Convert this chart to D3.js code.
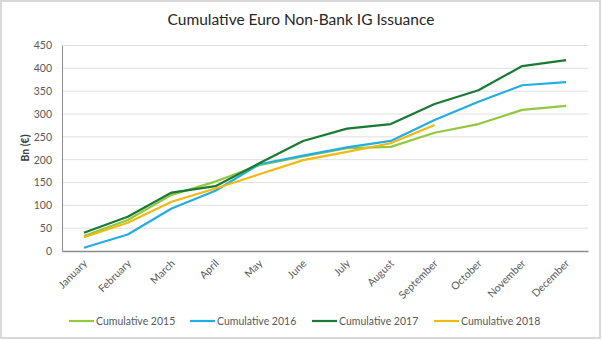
<!DOCTYPE html>
<html>
<head>
<meta charset="utf-8">
<style>
  body { margin: 0; background: #fff; }
  svg text { font-family: Lato, "Open Sans", sans-serif; fill: #404040; }
  .tick text { font-size: 10.5px; fill: #595959; }
</style>
</head>
<body>
<div id="chart"></div>
<script src="https://d3js.org/d3.v7.min.js"></script>
<script>
  // Monthly cumulative issuance, Bn EUR
  const months = ['January', 'February', 'March', 'April', 'May', 'June', 'July',
    'August', 'September', 'October', 'November', 'December'];
  const cum2015 = [33, 68, 123, 152, 188, 207, 225, 228, 259, 278, 309, 318];
  const cum2016 = [7, 36, 93, 132, 190, 209, 227, 241, 287, 327, 363, 370];
  const cum2017 = [40, 75, 128, 142, 192, 241, 268, 278, 322, 352, 405, 418];
  const cum2018 = [30, 62, 108, 137, 168, 199, 217, 236, 276];
  const yTicks = [0, 50, 100, 150, 200, 250, 300, 350, 400, 450];

  const series = [
    { name: 'Cumulative 2015', values: cum2015, color: '#92c83e' },
    { name: 'Cumulative 2016', values: cum2016, color: '#22aee0' },
    { name: 'Cumulative 2017', values: cum2017, color: '#1a7a33' },
    { name: 'Cumulative 2018', values: cum2018, color: '#f2b813' }
  ];

  const width = 602;
  const height = 340;
  const margin = { top: 45.5, right: 14, bottom: 89, left: 62 };

  const svg = d3.select('#chart')
    .append('svg')
    .attr('width', width)
    .attr('height', height);

  // outer frame
  svg.append('rect')
    .attr('x', 1).attr('y', 1)
    .attr('width', width - 3).attr('height', height - 3)
    .attr('fill', '#fff')
    .attr('stroke', '#d9d9d9')
    .attr('stroke-width', 2);

  const x = d3.scaleBand()
    .domain(months)
    .range([margin.left, width - margin.right]);

  const y = d3.scaleLinear()
    .domain([0, 450])
    .range([height - margin.bottom, margin.top]);

  // gridlines
  svg.append('g')
    .selectAll('line')
    .data(yTicks.slice(1))
    .enter()
    .append('line')
    .attr('x1', margin.left)
    .attr('x2', width - margin.right)
    .attr('y1', d => y(d))
    .attr('y2', d => y(d))
    .attr('stroke', '#e0e0e0')
    .attr('stroke-width', 1);

  // y axis
  const yAxis = svg.append('g')
    .attr('transform', `translate(${margin.left}, 0)`)
    .call(d3.axisLeft(y).tickValues(yTicks).tickSize(0).tickPadding(10));
  yAxis.select('.domain').attr('stroke', '#8c8c8c');

  // x axis
  const xAxis = svg.append('g')
    .attr('transform', `translate(0, ${height - margin.bottom})`)
    .call(d3.axisBottom(x).tickSize(0));
  xAxis.select('.domain').attr('stroke', '#8c8c8c').attr('stroke-width', 1.5);
  xAxis.selectAll('.tick text')
    .attr('text-anchor', 'end')
    .attr('y', 0)
    .attr('dy', 0)
    .attr('transform', 'translate(4, 13) rotate(-45)');

  // lines
  const line = d3.line()
    .x((d, i) => x(months[i]) + x.bandwidth() / 2)
    .y(d => y(d));

  svg.append('g')
    .selectAll('path')
    .data(series)
    .enter()
    .append('path')
    .attr('fill', 'none')
    .attr('stroke', d => d.color)
    .attr('stroke-width', 2.2)
    .attr('stroke-linejoin', 'round')
    .attr('d', d => line(d.values));

  // title
  svg.append('text')
    .attr('x', 301)
    .attr('y', 25)
    .attr('text-anchor', 'middle')
    .style('font-size', '15.5px')
    .style('fill', '#262626')
    .text('Cumulative Euro Non-Bank IG Issuance');

  // y axis label
  svg.append('text')
    .attr('transform', 'rotate(-90)')
    .attr('x', -148)
    .attr('y', 29)
    .attr('text-anchor', 'middle')
    .style('font-size', '10.5px')
    .style('font-weight', 'bold')
    .style('fill', '#404040')
    .text('Bn (€)');

  // legend
  const legendX = [69, 190, 312, 434];
  const legend = svg.append('g')
    .selectAll('g')
    .data(series)
    .enter()
    .append('g')
    .attr('transform', (d, i) => `translate(${legendX[i]}, 321)`);

  legend.append('line')
    .attr('x1', 0).attr('x2', 25)
    .attr('y1', 0).attr('y2', 0)
    .attr('stroke', d => d.color)
    .attr('stroke-width', 2.2);

  legend.append('text')
    .attr('x', 27)
    .attr('y', 4)
    .style('font-size', '10.5px')
    .style('fill', '#595959')
    .text(d => d.name);
</script>
</body>
</html>
